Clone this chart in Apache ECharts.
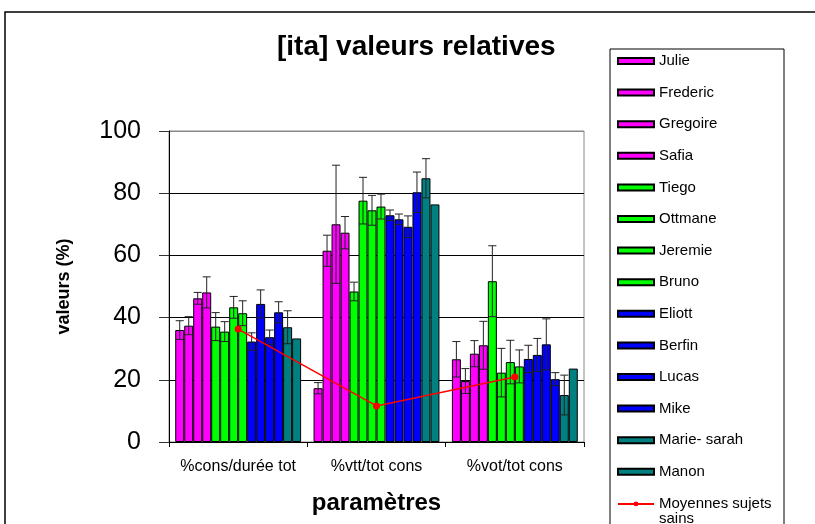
<!DOCTYPE html>
<html>
<head>
<meta charset="utf-8">
<script src="https://cdn.jsdelivr.net/npm/echarts@6/dist/echarts.min.js"></script>
<style>html,body{margin:0;padding:0;background:#fff}#c{width:815px;height:524px}</style>
</head>
<body>
<div id="c"></div>
<script>
const categories = ['%cons/durée tot', '%vtt/tot cons', '%vot/tot cons'];
const subjects = ['Julie','Frederic','Gregoire','Safia','Tiego','Ottmane','Jeremie','Bruno','Eliott','Berfin','Lucas','Mike','Marie- sarah','Manon'];
const subjectColors = ['#FF00FF','#FF00FF','#FF00FF','#FF00FF','#00FF00','#00FF00','#00FF00','#00FF00','#0000FF','#0000FF','#0000FF','#0000FF','#008080','#008080'];
const julie = [36.0, 17.3, 26.6];
const frederic = [37.4, 61.5, 19.6];
const gregoire = [46.2, 70.0, 28.4];
const safia = [48.1, 67.3, 31.1];
const tiego = [37.1, 48.4, 51.7];
const ottmane = [35.5, 77.6, 22.3];
const jeremie = [43.3, 74.5, 25.7];
const bruno = [41.4, 75.7, 24.3];
const eliott = [32.3, 72.9, 26.7];
const berfin = [44.4, 71.6, 28.0];
const lucas = [33.7, 69.2, 31.4];
const mike = [41.7, 80.3, 20.2];
const marieSarah = [36.9, 84.8, 15.1];
const manon = [33.3, 76.4, 23.6];
const errJulie = [3.0, 1.8, 5.7];
const errFrederic = [2.9, 5.0, 4.0];
const errGregoire = [1.9, 19.0, 4.2];
const errSafia = [5.0, 5.2, 7.7];
const errTiego = [4.5, 3.0, 11.4];
const errOttmane = [3.2, 7.5, 7.8];
const errJeremie = [3.5, 4.8, 7.0];
const errBruno = [4.0, 4.0, 5.3];
const errEliott = [2.8, 1.7, 4.4];
const errBerfin = [4.5, 1.7, 5.3];
const errLucas = [2.3, 3.5, 8.2];
const errMike = [3.4, 6.5, 2.1];
const errMarieSarah = [5.3, 6.3, 6.4];
const errManon = [null, null, null];
const moyennes = [36.3, 11.6, 20.9];
const yTicks = [0, 20, 40, 60, 80, 100];
const meanName = 'Moyennes sujets sains';

const values = [julie, frederic, gregoire, safia, tiego, ottmane, jeremie, bruno, eliott, berfin, lucas, mike, marieSarah, manon];
const errors = [errJulie, errFrederic, errGregoire, errSafia, errTiego, errOttmane, errJeremie, errBruno, errEliott, errBerfin, errLucas, errMike, errMarieSarah, errManon];

const FONT = 'Liberation Sans, Arial, sans-serif';
const GAP = 0.09;
const N = subjects.length;

const series = subjects.map((name, i) => ({
  name: name,
  type: 'bar',
  data: values[i],
  barGap: 0,
  barCategoryGap: (GAP * 100) + '%',
  itemStyle: { color: subjectColors[i], borderColor: '#000', borderWidth: 1 },
  z: 2
}));

const errData = [];
subjects.forEach((name, s) => {
  categories.forEach((c, k) => {
    if (errors[s][k] != null) errData.push([k, s, values[s][k], errors[s][k]]);
  });
});

series.push({
  type: 'custom',
  name: 'err',
  data: errData,
  encode: { x: 0, y: 2 },
  z: 3,
  silent: true,
  renderItem: function (params, api) {
    const k = api.value(0), s = api.value(1), v = api.value(2), e = api.value(3);
    const band = api.size([1, 0])[0];
    const bw = band * (1 - GAP) / N;
    const cx = api.coord([k, v])[0] + (s - (N - 1) / 2) * bw;
    const yh = api.coord([k, v + e])[1];
    const yl = api.coord([k, v - e])[1];
    const hw = bw * 0.45;
    const st = { stroke: '#222', lineWidth: 1 };
    return {
      type: 'group',
      children: [
        { type: 'line', shape: { x1: cx, y1: yl, x2: cx, y2: yh }, style: st },
        { type: 'line', shape: { x1: cx - hw, y1: yh, x2: cx + hw, y2: yh }, style: st },
        { type: 'line', shape: { x1: cx - hw, y1: yl, x2: cx + hw, y2: yl }, style: st }
      ]
    };
  }
});

series.push({
  name: meanName,
  type: 'line',
  data: moyennes,
  symbol: 'circle',
  symbolSize: 7,
  lineStyle: { color: '#FF0000', width: 1.5 },
  itemStyle: { color: '#FF0000' },
  z: 5
});

const chart = echarts.init(document.getElementById('c'), null, { renderer: 'canvas' });
chart.setOption({
  animation: false,
  backgroundColor: '#fff',
  title: {
    text: '[ita] valeurs relatives',
    left: 277,
    top: 33,
    padding: 0,
    textStyle: { fontFamily: FONT, fontWeight: 'bold', fontSize: 28, color: '#000' }
  },
  graphic: [
    { type: 'rect', shape: { x: 5, y: 12, width: 830, height: 540 }, style: { fill: 'none', stroke: '#000', lineWidth: 1.5 }, silent: true },
    { type: 'rect', shape: { x: 610, y: 49, width: 174, height: 500 }, style: { fill: 'none', stroke: '#000', lineWidth: 1 }, silent: true }
  ],
  legend: {
    orient: 'vertical',
    left: 617,
    top: 53,
    height: 700,
    padding: 0,
    itemWidth: 36,
    itemHeight: 6,
    itemGap: 15.6,
    data: subjects.map(n => ({ name: n, icon: 'rect' })).concat([{ name: meanName }]),
    formatter: function (n) { return n === meanName ? '{a|Moyennes sujets}\n{b|sains}' : n; },
    textStyle: {
      fontFamily: FONT, fontSize: 15, color: '#000', lineHeight: 16,
      rich: {
        a: { fontFamily: FONT, fontSize: 15, color: '#000', lineHeight: 16 },
        b: { fontFamily: FONT, fontSize: 15, color: '#000', lineHeight: 1, verticalAlign: 'top' }
      }
    }
  },
  grid: { left: 169, right: 231, top: 131, bottom: 82, show: true, borderColor: '#888', borderWidth: 1, backgroundColor: 'transparent' },
  xAxis: {
    type: 'category',
    data: categories,
    name: 'paramètres',
    nameLocation: 'middle',
    nameGap: 49,
    nameTextStyle: { fontFamily: FONT, fontWeight: 'bold', fontSize: 24, color: '#000' },
    axisLine: { lineStyle: { color: '#000', width: 1 } },
    axisTick: { show: true, length: 5, lineStyle: { color: '#000' } },
    axisLabel: { interval: 0, fontFamily: FONT, fontSize: 16, color: '#000', margin: 17 },
    splitLine: { show: false }
  },
  yAxis: {
    type: 'value',
    min: 0,
    max: 100,
    interval: 20,
    name: 'valeurs (%)',
    nameLocation: 'middle',
    nameGap: 96,
    nameTextStyle: { fontFamily: FONT, fontWeight: 'bold', fontSize: 18, color: '#000' },
    axisLine: { show: true, lineStyle: { color: '#000', width: 1 } },
    axisTick: { show: true, length: 10, lineStyle: { color: '#333' } },
    axisLabel: {
      fontFamily: FONT, fontSize: 25, color: '#000', margin: 28,
      formatter: function (v) { return yTicks.indexOf(v) >= 0 ? String(v) : ''; }
    },
    splitLine: { show: true, lineStyle: { color: ['#000', '#000', '#000', '#000', '#000', '#888'], width: 1 } }
  },
  series: series
});
</script>
</body>
</html>
